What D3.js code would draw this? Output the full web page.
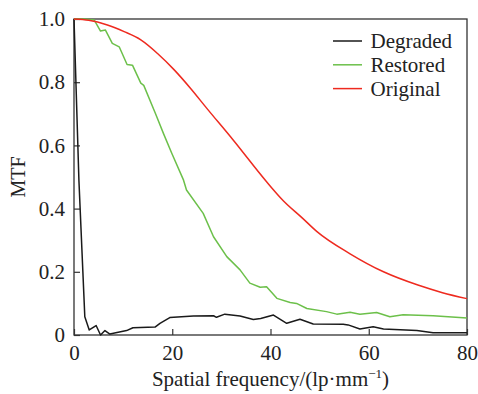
<!DOCTYPE html>
<html>
<head>
<meta charset="utf-8">
<script src="https://cdn.jsdelivr.net/npm/d3@7"></script>
<style>
  body { margin: 0; background: #fff; }
</style>
</head>
<body>
<svg id="chart" width="478" height="394"></svg>
<script>
// MTF curves: [spatial frequency, MTF]
const degraded = [
  [0, 1.0], [1.0, 0.49], [2.2, 0.058], [3.1, 0.016], [4.5, 0.03], [5.4, 0.0],
  [6.3, 0.014], [7.3, 0.003], [10.7, 0.014], [12, 0.023], [16.5, 0.025], [17.5, 0.037],
  [19.5, 0.055], [24.3, 0.06], [28.4, 0.061], [29, 0.056], [30.7, 0.066], [33.8, 0.06],
  [36.5, 0.049], [38, 0.052], [40.6, 0.063], [43.3, 0.037], [46, 0.05], [48.7, 0.035],
  [54.8, 0.034], [55.8, 0.032], [58.2, 0.019], [60.9, 0.026], [63, 0.019], [69.8, 0.014],
  [73.1, 0.007], [80, 0.007]
];
const restored = [
  [0, 1.0], [2, 1.0], [4.1, 0.997], [5.4, 0.962], [6.4, 0.965], [7.8, 0.923], [9.2, 0.912],
  [10.8, 0.856], [11.9, 0.854], [13.6, 0.797], [14.2, 0.79], [16.6, 0.70], [18.2, 0.638],
  [19.9, 0.575], [22.3, 0.49], [22.9, 0.459], [26.3, 0.385], [28.4, 0.311], [31.1, 0.248],
  [33.8, 0.206], [35.8, 0.164], [37.9, 0.151], [39.2, 0.153], [41.3, 0.116], [44, 0.103],
  [45.3, 0.1], [47.4, 0.084], [51.4, 0.074], [53.5, 0.066], [56.2, 0.072], [58.2, 0.066],
  [61.6, 0.071], [64.3, 0.058], [67, 0.064], [73.1, 0.061], [80, 0.054]
];
const original = [
  [0, 1.0], [3, 0.996], [6.8, 0.981], [10.2, 0.96], [13.6, 0.934], [17, 0.891],
  [20.4, 0.839], [23.7, 0.781], [27, 0.718], [32.4, 0.617], [39.2, 0.485], [42.6, 0.425],
  [46.5, 0.37], [49.4, 0.328], [56.2, 0.257], [63, 0.2], [70, 0.158], [75, 0.134],
  [80, 0.115]
];
const xTicks = [0, 20, 40, 60, 80];
const yTicks = [0, 0.2, 0.4, 0.6, 0.8, 1.0];
const series = [
  { name: "Degraded", data: degraded, color: "#1a1a1a", curve: d3.curveLinear },
  { name: "Restored", data: restored, color: "#6cc04a", curve: d3.curveLinear },
  { name: "Original", data: original, color: "#ee2a1f", curve: d3.curveMonotoneX }
];

const FONT = "Liberation Serif";
const margin = { left: 74, top: 19, right: 11, bottom: 59 };
const width = 478, height = 394;
const svg = d3.select("#chart");

const x = d3.scaleLinear().domain([0, 80]).range([margin.left, width - margin.right]);
const y = d3.scaleLinear().domain([0, 1]).range([height - margin.bottom, margin.top]);

// frame
svg.append("rect")
  .attr("x", x(0)).attr("y", y(1))
  .attr("width", x(80) - x(0)).attr("height", y(0) - y(1))
  .attr("fill", "none").attr("stroke", "#333").attr("stroke-width", 1.3);

// axes with inward ticks
const xAxis = svg.append("g")
  .attr("transform", `translate(0,${y(0)})`)
  .call(d3.axisBottom(x).tickValues(xTicks).tickSize(-6).tickPadding(10).tickFormat(d3.format("d")));
const yAxis = svg.append("g")
  .attr("transform", `translate(${x(0)},0)`)
  .call(d3.axisLeft(y).tickValues(yTicks).tickSize(-6).tickPadding(9)
    .tickFormat(d => d === 0 ? "0" : d3.format(".1f")(d)));
[xAxis, yAxis].forEach(g => {
  g.attr("font-family", FONT).attr("font-size", 21);
  g.select(".domain").remove();
  g.selectAll(".tick line").attr("stroke", "#333").attr("stroke-width", 1.2);
  g.selectAll(".tick text").attr("fill", "#222");
});

// curves
series.forEach(s => {
  const line = d3.line().x(d => x(d[0])).y(d => y(d[1])).curve(s.curve);
  svg.append("path")
    .datum(s.data)
    .attr("fill", "none")
    .attr("stroke", s.color)
    .attr("stroke-width", 1.5)
    .attr("stroke-linejoin", "round")
    .attr("d", line);
});

// legend
const legend = svg.append("g").attr("transform", "translate(333,41)")
  .attr("font-family", FONT).attr("font-size", 21).attr("fill", "#222");
series.forEach((s, i) => {
  const g = legend.append("g").attr("transform", `translate(0,${i * 23.8})`);
  g.append("line").attr("x1", 0).attr("x2", 29).attr("y1", 0).attr("y2", 0)
    .attr("stroke", s.color).attr("stroke-width", 1.5);
  g.append("text").attr("x", 37.5).attr("y", 0).attr("dy", "0.35em").text(s.name);
});

// axis titles
const xt = svg.append("text")
  .attr("x", (x(0) + x(80)) / 2).attr("y", 386)
  .attr("text-anchor", "middle")
  .attr("font-family", FONT).attr("font-size", 21).attr("fill", "#222");
xt.append("tspan").text("Spatial frequency/(lp·mm");
xt.append("tspan").attr("dy", -8).attr("font-size", 13).text("−1");
xt.append("tspan").attr("dy", 8).text(")");
svg.append("text")
  .attr("transform", `translate(25,${(y(0) + y(1)) / 2}) rotate(-90)`)
  .attr("text-anchor", "middle")
  .attr("font-family", FONT).attr("font-size", 20).attr("fill", "#222")
  .text("MTF");
</script>
</body>
</html>
